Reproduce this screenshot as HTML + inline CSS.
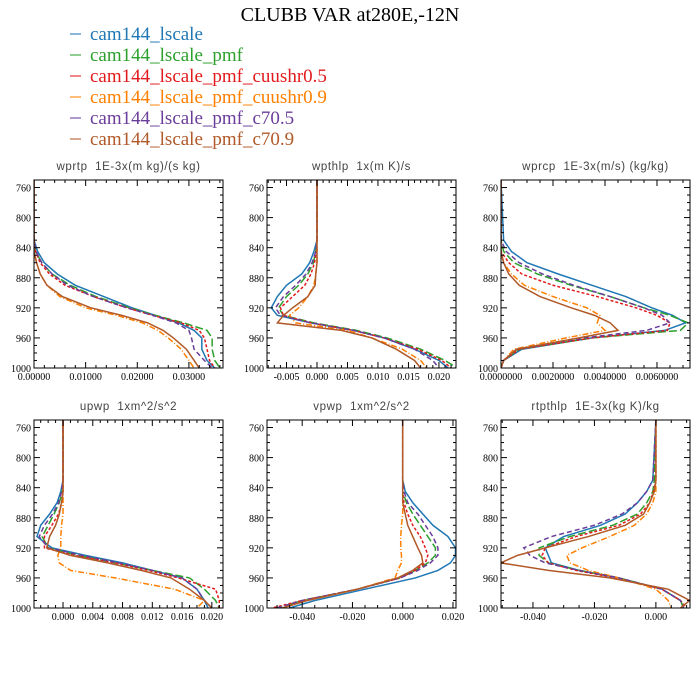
<!DOCTYPE html>
<html><head><meta charset="utf-8">
<style>
body{margin:0;background:#fff;}
svg{display:block;}
.tl{font-family:"Liberation Sans",sans-serif;font-size:11.5px;fill:#444;letter-spacing:0.6px;white-space:pre;}
.tk{font-family:"Liberation Serif",serif;font-size:10px;fill:#000;}
.lg{font-family:"Liberation Serif",serif;font-size:19px;}
</style></head>
<body>
<svg id="c" width="700" height="700" xmlns="http://www.w3.org/2000/svg">
<text x="350" y="21" text-anchor="middle" font-family="Liberation Serif,serif" font-size="20">CLUBB VAR at280E,-12N</text>
</svg>
<script>
const seriesNames=["cam144_lscale","cam144_lscale_pmf","cam144_lscale_pmf_cuushr0.5","cam144_lscale_pmf_cuushr0.9","cam144_lscale_pmf_c70.5","cam144_lscale_pmf_c70.9"];
const colors=["#1f77b4","#2ca02c","#e31a1c","#ff7f00","#6a3d9a","#b15928"];
const dashes=["","8,3","3,2","6,2,1,2","5,3",""];
const levels=[750,830,845,860,875,890,905,920,930,940,950,960,975,990,1000];
const yTicks=[760,800,840,880,920,960,1000];

// order: blue, green, red, orange, purple, brown
const wprtp=[
[0,0,.0007,.002,.0045,.008,.0135,.019,.0235,.028,.031,.0325,.0325,.0335,.035],
[0,0,.0003,.0015,.0035,.007,.012,.0185,.0235,.029,.0335,.0345,.0345,.035,.036],
[0,0,.0003,.0012,.003,.006,.0115,.018,.023,.0285,.032,.033,.0335,.034,.035],
[0,0,0,.0005,.0012,.0025,.005,.010,.016,.021,.024,.026,.0285,.030,.031],
[0,0,.0004,.0015,.0035,.0065,.0115,.018,.023,.0275,.030,.0305,.031,.033,.0345],
[0,0,0,.0005,.0012,.0025,.0055,.011,.017,.022,.025,.027,.0295,.031,.032]];
const wpthlp=[
[0,0,-.0005,-.0012,-.0025,-.005,-.0065,-.0075,-.0065,-.001,.006,.011,.016,.020,.0215],
[0,0,-.0002,-.0006,-.0015,-.003,-.005,-.0063,-.0055,-.0005,.0065,.0115,.017,.021,.023],
[0,0,-.0001,-.0004,-.001,-.002,-.004,-.006,-.0055,-.001,.006,.011,.0165,.0205,.022],
[0,0,0,0,-.0002,-.0005,-.0015,-.003,-.0045,-.0035,.005,.009,.014,.017,.018],
[0,0,-.0002,-.0008,-.0018,-.0035,-.0055,-.0068,-.006,-.001,.006,.011,.016,.019,.020],
[0,0,0,0,-.0002,-.0003,-.0015,-.004,-.0055,-.0065,.004,.009,.013,.016,.017]];
const wprcp=[
[0,.0001,.0004,.001,.0022,.0035,.0048,.0058,.0066,.0071,.0063,.0035,.0008,.0001,0],
[0,0,.0001,.0005,.0014,.0027,.0042,.0055,.0065,.0072,.0069,.0035,.0007,.0001,0],
[0,0,0,.0003,.0008,.002,.0037,.0052,.006,.0065,.0064,.0035,.0007,.0001,0],
[0,0,0,.0001,.0004,.0009,.002,.0033,.0038,.0037,.0040,.0025,.0005,.0001,0],
[0,0,.0002,.0007,.0016,.0028,.0042,.0055,.0062,.0065,.0056,.0032,.0006,.0001,0],
[0,0,0,.0001,.0003,.0007,.0015,.0027,.0036,.0042,.0045,.003,.0006,.0001,0]];
const upwp=[
[0,0,-.0003,-.0008,-.0018,-.003,-.0035,-.0015,.003,.008,.012,.016,.018,.019,.0195],
[0,0,-.0001,-.0005,-.0012,-.002,-.0028,-.002,.002,.007,.012,.017,.019,.0205,.021],
[0,0,0,-.0002,-.0006,-.0015,-.0025,-.0025,.0015,.007,.0115,.0155,.0205,.021,.021],
[0,0,0,0,0,-.0002,-.0003,-.0003,-.0007,-.0005,.001,.007,.015,.019,.018],
[0,0,-.0002,-.0006,-.0014,-.0025,-.0032,-.002,.0025,.0075,.012,.016,.018,.019,.020],
[0,0,0,-.0002,-.0005,-.001,-.0018,-.0022,.001,.006,.0105,.0145,.017,.019,.020]];
const vpwp=[
[0,0,.001,.004,.008,.012,.018,.021,.021,.019,.014,.005,-.015,-.035,-.045],
[0,0,0,.0015,.004,.007,.010,.013,.013,.010,.005,-.001,-.018,-.04,-.05],
[0,0,0,.0005,.002,.004,.007,.009,.010,.009,.005,-.001,-.018,-.04,-.052],
[0,0,0,0,0,-.0005,-.0008,-.0008,-.0005,-.0005,-.002,-.003,-.018,-.038,-.048],
[0,0,.0005,.002,.006,.009,.012,.014,.014,.011,.006,-.001,-.018,-.04,-.05],
[0,0,0,0,.001,.002,.004,.006,.0075,.008,.004,-.002,-.018,-.038,-.048]];
const rtpthlp=[
[0,-.001,-.003,-.006,-.01,-.018,-.03,-.036,-.035,-.034,-.025,-.012,.002,.008,.009],
[0,-.0005,-.001,-.003,-.006,-.014,-.028,-.038,-.038,-.035,-.025,-.012,.002,.008,.009],
[0,0,-.0008,-.002,-.005,-.012,-.026,-.036,-.037,-.035,-.026,-.013,.002,.008,.010],
[0,0,0,-.001,-.003,-.007,-.015,-.024,-.029,-.028,-.022,-.012,0,.004,.005],
[0,-.001,-.003,-.006,-.011,-.02,-.034,-.043,-.041,-.036,-.025,-.012,.002,.008,.009],
[0,0,-.0005,-.002,-.004,-.01,-.022,-.036,-.045,-.0505,-.035,-.015,.004,.011,.008]];

const xt1=["0.00000","0.01000","0.02000","0.03000"];
const xt2=["-0.005","0.000","0.005","0.010","0.015","0.020"];
const xt3=["0.0000000","0.0020000","0.0040000","0.0060000"];
const xt4=["0.000","0.004","0.008","0.012","0.016","0.020"];
const xt5=["-0.040","-0.020","0.000","0.020"];
const xt6=["-0.040","-0.020","0.000"];

const panels=[
{name:"wprtp",title:"wprtp  1E-3x(m kg)/(s kg)",data:wprtp,x0:34,y0:180,xmin:0,xmax:0.0366,ticks:xt1,minor:5},
{name:"wpthlp",title:"wpthlp  1x(m K)/s",data:wpthlp,x0:267,y0:180,xmin:-0.0082,xmax:0.0228,ticks:xt2,minor:5},
{name:"wprcp",title:"wprcp  1E-3x(m/s) (kg/kg)",data:wprcp,x0:501,y0:180,xmin:0,xmax:0.00727,ticks:xt3,minor:4},
{name:"upwp",title:"upwp  1xm^2/s^2",data:upwp,x0:34,y0:420,xmin:-0.0039,xmax:0.0215,ticks:xt4,minor:4},
{name:"vpwp",title:"vpwp  1xm^2/s^2",data:vpwp,x0:267,y0:420,xmin:-0.054,xmax:0.0212,ticks:xt5,minor:4},
{name:"rtpthlp",title:"rtpthlp  1E-3x(kg K)/kg",data:rtpthlp,x0:501,y0:420,xmin:-0.0504,xmax:0.0111,ticks:xt6,minor:4}];
const W=189,H=188,NS="http://www.w3.org/2000/svg";
const svg=document.getElementById('c');
function mk(t,a,p){const e=document.createElementNS(NS,t);for(const k in a)e.setAttribute(k,a[k]);(p||svg).appendChild(e);return e;}

seriesNames.forEach((n,i)=>{
  const y=34+i*21;
  const g=mk('g',{});
  
  
  mk('line',{x1:70,x2:81,y1:y,y2:y,stroke:colors[i],'stroke-width':1.5,opacity:0.7},g);
  const t=mk('text',{x:90,y:y+6,class:'lg',fill:colors[i]},g);t.textContent=n;
});

panels.forEach((p,pi)=>{
  const g=mk('g',{});
  
  
  const sx=v=>p.x0+(v-p.xmin)/(p.xmax-p.xmin)*W;
  const sy=v=>p.y0+(v-750)/250*H;
  const cid='clip'+pi;
  const cp=mk('clipPath',{id:cid},g);mk('rect',{x:p.x0,y:p.y0,width:W,height:H},cp);
  const t=mk('text',{x:p.x0+W/2,y:p.y0-10,'text-anchor':'middle',class:'tl'},g);t.textContent=p.title;
  
  p.data.forEach((s,si)=>{
    const d=s.map((v,k)=>(k?'L':'M')+sx(v).toFixed(2)+','+sy(levels[k]).toFixed(2)).join('');
    const path=mk('path',{d:d,fill:'none',stroke:colors[si],'stroke-width':1.5,'stroke-dasharray':dashes[si],'clip-path':'url(#'+cid+')'},g);
    
    
  });
  mk('rect',{x:p.x0,y:p.y0,width:W,height:H,fill:'none',stroke:'#000','stroke-width':1},g);
  for(let v=750;v<=1000;v+=10){
    const y=sy(v),maj=yTicks.includes(v),L=maj?6:3;
    mk('line',{x1:p.x0,x2:p.x0+L,y1:y,y2:y,stroke:'#000'},g);
    mk('line',{x1:p.x0+W,x2:p.x0+W-L,y1:y,y2:y,stroke:'#000'},g);
    if(maj){const tt=mk('text',{x:p.x0-3,y:y+4,'text-anchor':'end',class:'tk'},g);tt.textContent=v;}
  }
  const tv=p.ticks.map(Number);const step=tv[1]-tv[0];
  for(let k=-20;k<200;k++){
    const v=tv[0]+k*step/p.minor;
    if(v<p.xmin-1e-12||v>p.xmax+1e-12)continue;
    const x=sx(v),maj=(k%p.minor===0),L=maj?6:3;
    mk('line',{x1:x,x2:x,y1:p.y0+H,y2:p.y0+H-L,stroke:'#000'},g);
    mk('line',{x1:x,x2:x,y1:p.y0,y2:p.y0+L,stroke:'#000'},g);
  }
  p.ticks.forEach(lb=>{const tt=mk('text',{x:sx(Number(lb)),y:p.y0+H+12,'text-anchor':'middle',class:'tk'},g);tt.textContent=lb;});
});
</script>
</body></html>
